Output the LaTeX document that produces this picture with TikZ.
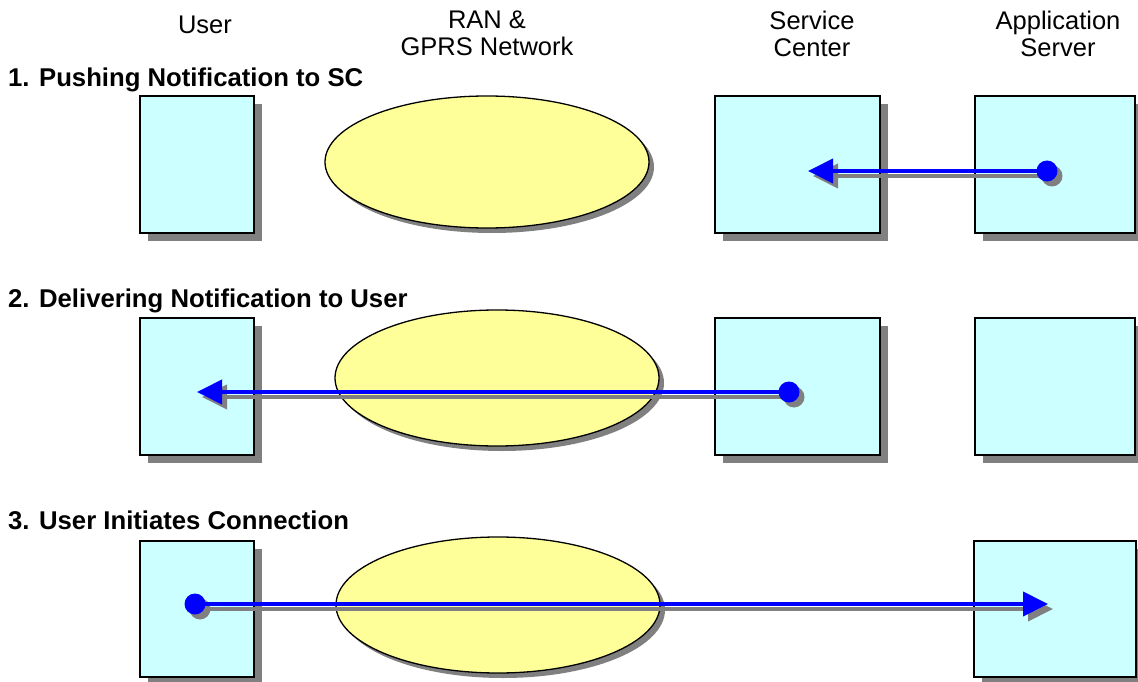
\documentclass[tikz,border=0pt]{standalone}
\usepackage{fontspec}
\setmainfont{Liberation Sans}
\usetikzlibrary{shapes.geometric,shadows,arrows.meta}
\definecolor{boxfill}{HTML}{CCFFFF}
\definecolor{ellfill}{HTML}{FFFF99}
\definecolor{shgray}{HTML}{808080}
\definecolor{arrowblue}{HTML}{0000FF}
\begin{document}
\begin{tikzpicture}[x=1pt,y=-1pt,
 box/.style={draw=black, line width=1.5pt, fill=boxfill, rectangle, inner sep=0,
   drop shadow={shadow xshift=8pt, shadow yshift=-8pt, fill=shgray, opacity=1}},
 cloud/.style={draw=black, line width=1.3pt, fill=ellfill, ellipse, inner sep=0,
   drop shadow={shadow xshift=5pt, shadow yshift=-5pt, fill=shgray, opacity=1}},
 title/.style={font=\fontsize{25.5}{27}\selectfont, align=center, anchor=north, inner sep=0},
 heading/.style={font=\fontsize{25.7}{27}\selectfont\bfseries, anchor=base west, inner sep=0},
 dot/.style={circle, fill=arrowblue, minimum size=21pt, inner sep=0},
 flow/.style={draw=arrowblue, line width=4pt, -{Triangle[length=25pt,width=24pt]}},
 flowsh/.style={draw=shgray, line width=4pt, -{Triangle[length=25pt,width=24pt]}, transform canvas={shift={(5pt,-5pt)}}},
]
\useasboundingbox (0,0) rectangle (1138,682);

% column titles
\node[title, anchor=base] (tU) at (205,34) {User};
\node[title] (tR) at (487,11) {RAN \&\\GPRS Network};
\node[title] (tS) at (812,11) {Service\\Center};
\node[title] (tA) at (1058,11) {Application\\Server};

% headings
\node[heading] (h1) at (8,87) {1. Pushing Notification to SC};
\node[heading] (h2) at (8,307) {2. Delivering Notification to User};
\node[heading] (h3) at (8,529) {3. User Initiates Connection};

% row 1
\node[box, minimum width=114pt, minimum height=137pt] (u1) at (197,164.5) {};
\node[cloud, minimum width=324pt, minimum height=132pt] (el1) at (487,162) {};
\node[box, minimum width=165pt, minimum height=137pt] (sc1) at (797.5,164.5) {};
\node[box, minimum width=160pt, minimum height=137pt] (as1) at (1055,164.5) {};

% row 2
\node[box, minimum width=114pt, minimum height=137pt] (u2) at (197,386.5) {};
\node[cloud, minimum width=324pt, minimum height=136pt] (el2) at (497,378) {};
\node[box, minimum width=165pt, minimum height=137pt] (sc2) at (797.5,386.5) {};
\node[box, minimum width=160pt, minimum height=137pt] (as2) at (1055,386.5) {};

% row 3
\node[box, minimum width=114pt, minimum height=136pt] (u3) at (197,609) {};
\node[cloud, minimum width=324pt, minimum height=136pt] (el3) at (498,605) {};
\node[box, minimum width=162pt, minimum height=136pt] (as3) at (1055,609) {};

% arrow end points
\coordinate (d1) at (1047,171);
\coordinate (t1) at (808,171);
\coordinate (d2) at (789,392);
\coordinate (t2) at (197,392);
\coordinate (d3) at (195,604);
\coordinate (t3) at (1048,604);

% shadows of arrows
\draw[flowsh] (d1) -- (t1);
\draw[flowsh] (d2) -- (t2);
\draw[flowsh] (d3) -- (t3);
\fill[shgray] ([xshift=5pt,yshift=-5pt]d1) circle (10.5pt);
\fill[shgray] ([xshift=5pt,yshift=-5pt]d2) circle (10.5pt);
\fill[shgray] ([xshift=5pt,yshift=-5pt]d3) circle (10.5pt);
% arrows
\draw[flow] (d1) -- (t1);
\draw[flow] (d2) -- (t2);
\draw[flow] (d3) -- (t3);
\node[dot] (n1) at (d1) {};
\node[dot] (n2) at (d2) {};
\node[dot] (n3) at (d3) {};
\end{tikzpicture}
\end{document}
